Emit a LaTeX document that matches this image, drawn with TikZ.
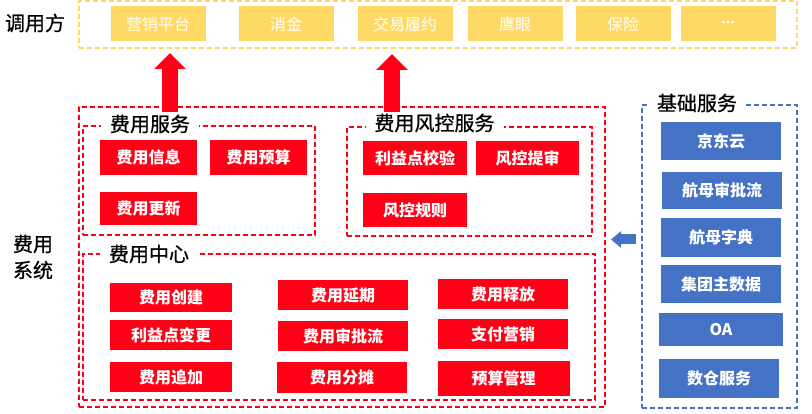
\documentclass[tikz,border=0pt]{standalone}
\usepackage{fontspec}
\setmainfont{Noto Sans CJK SC}
\newfontfamily\ttlfont{Noto Sans CJK SC}[FakeBold=0.8]
\usetikzlibrary{arrows.meta}
\definecolor{cred}{HTML}{FF0016}
\definecolor{cyel}{HTML}{FFD966}
\definecolor{cblue}{HTML}{4472C4}
\tikzset{
  boxbase/.style={inner sep=0pt, outer sep=0pt, text=white,
    font=\fontsize{16}{16}\selectfont\bfseries},
  rbox/.style={boxbase, fill=cred},
  ybox/.style={boxbase, fill=cyel, font=\fontsize{16}{16}\selectfont,
    minimum width=95pt, minimum height=35pt},
  bbox/.style={boxbase, fill=cblue, minimum width=120pt},
  frame/.style={inner sep=0pt, outer sep=0pt, line width=1.3pt,
    dash pattern=on 5pt off 3pt},
  rframe/.style={frame, draw=cred},
  yframe/.style={frame, draw=cyel},
  bframe/.style={frame, draw=cblue, line width=1.2pt},
  ttl/.style={fill=white, inner xsep=9pt, inner ysep=1pt,
    font=\fontsize{20}{20}\ttlfont, text=black},
  lbl/.style={inner sep=0pt, font=\fontsize{20}{20}\ttlfont, text=black},
  uparrow/.style={draw=cred, line width=16pt, -{Triangle[width=31pt,length=16pt]}},
  leftarrow/.style={draw=cblue, line width=10pt, -{Triangle[width=16pt,length=10pt]}}
}
\begin{document}
\begin{tikzpicture}[x=1pt,y=-1pt]
\useasboundingbox (0,0) rectangle (812,414);

% callers
\node[lbl] (caller) at (35,23) {调用方};
\node[yframe, minimum width=718pt, minimum height=47pt] (callers) at (438,24.5) {};
\node[ybox] (y1) at (158,24) {营销平台};
\node[ybox] (y2) at (286,24) {消金};
\node[ybox] (y3) at (405,24) {交易履约};
\node[ybox] (y4) at (515,24) {鹰眼};
\node[ybox] (y5) at (623,24) {保险};
\node[ybox] (y6) at (728,24) {\fontsize{13}{13}\selectfont ·\kern-8.5pt·\kern-8.5pt·};

% fee system
\node[lbl] (sysl1) at (33,244) {费用};
\node[lbl] (sysl2) at (33,270) {系统};
\node[rframe, minimum width=526pt, minimum height=300pt] (sys) at (342,257) {};

% arrows up
\coordinate (a1s) at (170,112);
\coordinate (a1e) at (170,53);
\coordinate (a2s) at (392,112);
\coordinate (a2e) at (392,54);
\draw[uparrow] (a1s) -- (a1e);
\draw[uparrow] (a2s) -- (a2e);

% fee service
\node[rframe, minimum width=232pt, minimum height=109pt] (fs) at (199,180.5) {};
\node[ttl] (fst) at (150,124) {费用服务};
\node[rbox, minimum width=97pt, minimum height=35pt] (f1) at (148.5,157.5) {费用信息};
\node[rbox, minimum width=97pt, minimum height=35pt] (f2) at (258.5,157.5) {费用预算};
\node[rbox, minimum width=97pt, minimum height=33pt] (f3) at (148.5,208.5) {费用更新};

% risk service
\node[rframe, minimum width=245pt, minimum height=109pt] (rs) at (469.5,181.5) {};
\node[ttl] (rst) at (434.5,123) {费用风控服务};
\node[rbox, minimum width=104pt, minimum height=34pt] (r1) at (415,158) {利益点校验};
\node[rbox, minimum width=103pt, minimum height=34pt] (r2) at (527.5,158) {风控提审};
\node[rbox, minimum width=104pt, minimum height=34pt] (r3) at (415,210) {风控规则};

% fee center
\node[rframe, minimum width=512pt, minimum height=146pt] (fc) at (339,327) {};
\node[ttl] (fct) at (149,254) {费用中心};
\node[rbox, minimum width=122pt, minimum height=29pt] (c11) at (171,297.5) {费用创建};
\node[rbox, minimum width=130pt, minimum height=30pt] (c12) at (343,295) {费用延期};
\node[rbox, minimum width=130pt, minimum height=30pt] (c13) at (503,294) {费用释放};
\node[rbox, minimum width=122pt, minimum height=30pt] (c21) at (171,335) {利益点变更};
\node[rbox, minimum width=130pt, minimum height=30pt] (c22) at (343,336) {费用审批流};
\node[rbox, minimum width=130pt, minimum height=30pt] (c23) at (503,334) {支付营销};
\node[rbox, minimum width=122pt, minimum height=30pt] (c31) at (171,377) {费用追加};
\node[rbox, minimum width=130pt, minimum height=31pt] (c32) at (342,377.5) {费用分摊};
\node[rbox, minimum width=132pt, minimum height=35pt] (c33) at (503.5,378.5) {预算管理};

% base services
\node[bframe, minimum width=155pt, minimum height=303pt] (bs) at (719.5,256.5) {};
\node[ttl] (bst) at (697,103) {基础服务};
\node[bbox, minimum height=38pt] (b1) at (721,141) {京东云};
\node[bbox, minimum height=37pt] (b2) at (722,190.5) {航母审批流};
\node[bbox, minimum height=39pt] (b3) at (721,237.5) {航母字典};
\node[bbox, minimum height=38pt] (b4) at (721,284) {集团主数据};
\node[bbox, minimum width=124pt, minimum height=33pt] (b5) at (721,329.5) {OA};
\node[bbox, minimum height=39pt] (b6) at (719,378.5) {数仓服务};

% arrow left
\coordinate (bas) at (636,239.5);
\coordinate (bae) at (611,239.5);
\draw[leftarrow] (bas) -- (bae);
\end{tikzpicture}
\end{document}
